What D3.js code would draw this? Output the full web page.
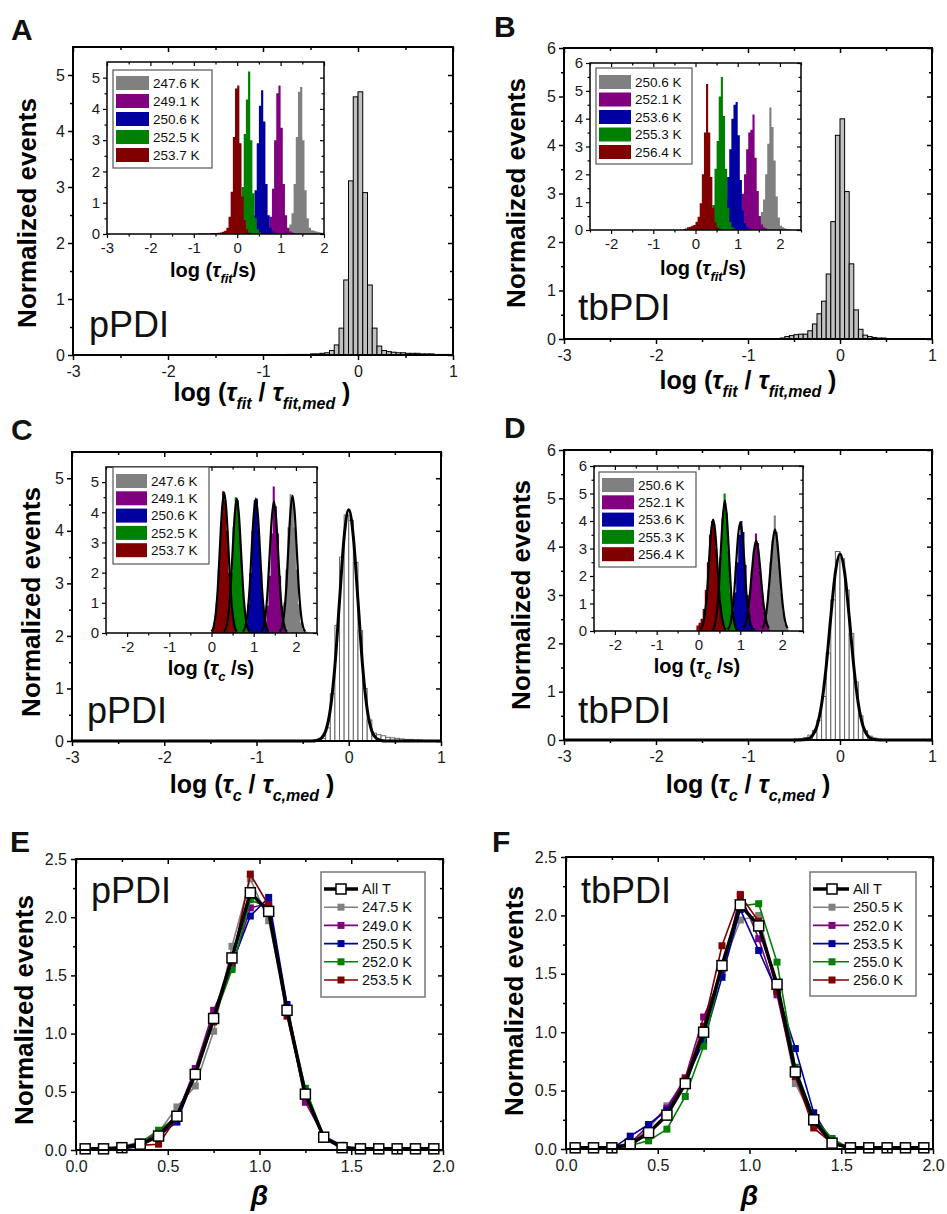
<!DOCTYPE html>
<html>
<head>
<meta charset="utf-8">
<script src="https://cdn.jsdelivr.net/npm/d3@7"></script>
<style>
  body { margin: 0; background: #fff; }
  text { font-family: "Liberation Sans", Arial, Helvetica, sans-serif; white-space: pre; }
</style>
</head>
<body>
<script>
// ------------------------------------------------------------------
// data
// ------------------------------------------------------------------
const binW = 0.05;
const colors = ["#808080", "#800080", "#0000a0", "#008000", "#800000"];

// ticks
const mainXTicks = [-3, -2, -1, 0, 1];
const mainXMinor = [-2.5, -1.5, -0.5, 0.5];
const y55Ticks = [0, 1, 2, 3, 4, 5];
const y55Minor = [0.5, 1.5, 2.5, 3.5, 4.5];
const y6Ticks = [0, 1, 2, 3, 4, 5, 6];
const y6Minor = [0.5, 1.5, 2.5, 3.5, 4.5, 5.5];
const insetAXTicks = [-3, -2, -1, 0, 1, 2];
const insetAXMinor = [-2.5, -1.5, -0.5, 0.5, 1.5];
const insetXTicks = [-2, -1, 0, 1, 2];
const insetXMinor = [-2.5, -1.5, -0.5, 0.5, 1.5, 2.5];
const betaTicks = [0, 0.5, 1, 1.5, 2];
const betaMinor = [0.25, 0.75, 1.25, 1.75];
const evTicks = [0, 0.5, 1, 1.5, 2, 2.5];
const evMinor = [0.25, 0.75, 1.25, 1.75, 2.25];

// A: main histogram log(tau_fit/tau_fit,med), pPDI
const histAStart = -0.75;
const histA = [0.01,0.01,0.01,0.01,0.01,0.02,0.02,0.03,0.04,0.08,0.18,0.48,1.34,3.11,4.61,4.70,2.90,1.25,0.48,0.16,
               0.08,0.06,0.05,0.04,0.04,0.03,0.03,0.03,0.02,0.02,0.02,0.01,0.01,0.01,0.01];
// A inset: log(tau_fit/s)
const tempsA = ["247.6 K", "249.1 K", "250.6 K", "252.5 K", "253.7 K"];
const insetAStarts = [1.00, 0.55, 0.15, -0.15, -0.90];
const insetA247 = [0.03,0.05,0.08,0.15,0.30,0.66,1.60,3.10,4.55,4.70,3.00,1.40,0.50,0.20,0.12,0.10,0.08,0.06,0.05,0.04];
const insetA249 = [0.03,0.05,0.10,0.20,0.55,1.45,3.00,4.50,4.75,3.40,1.60,0.60,0.20,0.08,0.05];
const insetA250 = [0.03,0.05,0.10,0.25,0.60,1.40,2.90,4.10,4.60,3.60,1.60,0.60,0.20,0.08,0.04];
const insetA252 = [0.03,0.05,0.10,0.25,0.60,1.50,3.20,4.30,5.20,3.00,1.30,0.50,0.15,0.05];
const insetA253 = [0.02,0.02,0.02,0.02,0.02,0.02,0.03,0.03,0.03,0.04,0.05,0.07,0.10,0.20,0.55,1.35,3.10,4.65,4.75,2.90,1.20,0.45,0.15,0.05];

// B: main histogram, tbPDI
const histBStart = -0.65;
const histB = [0.02,0.05,0.07,0.09,0.10,0.10,0.17,0.31,0.52,0.78,1.34,2.42,4.20,4.54,3.04,1.55,0.60,0.20,0.08,0.05,
               0.03,0.02,0.02,0.01,0.01,0.01];
const tempsB = ["250.6 K", "252.1 K", "253.6 K", "255.3 K", "256.4 K"];
const insetBStarts = [1.35, 0.80, 0.45, 0.20, -0.30];
const insetB250 = [0.05,0.10,0.20,0.40,0.65,1.10,2.00,3.10,4.40,3.70,2.50,1.20,0.45,0.15,0.10,0.06,0.04,0.03,0.02];
const insetB252 = [0.05,0.10,0.20,0.30,0.50,0.80,1.30,2.00,2.90,3.50,3.60,4.15,2.60,1.40,0.50,0.20,0.10,0.05];
const insetB253 = [0.05,0.10,0.20,0.40,0.60,1.10,1.90,2.90,4.00,4.50,4.60,3.40,1.80,0.70,0.25,0.10,0.05];
const insetB255 = [0.05,0.10,0.20,0.50,0.90,2.20,3.20,4.80,5.50,4.10,2.20,0.80,0.30,0.10,0.05];
const insetB256 = [0.03,0.05,0.10,0.12,0.15,0.18,0.30,0.48,0.96,2.00,3.50,5.25,3.50,1.90,0.80,0.30,0.10,0.05];

// C: main histogram log(tau_c/tau_c,med) + fit, pPDI
const histCStart = -0.35;
const histC = [0.02,0.05,0.25,0.90,2.20,3.50,4.30,4.20,3.40,2.10,1.00,0.40,0.15,0.12,0.10,0.07,0.06,0.05,0.04,0.03,
               0.03,0.02,0.02,0.01,0.01];
const fitCStart = -0.4;
const fitC = [0.00,0.01,0.05,0.19,0.60,1.43,2.67,3.88,4.40,3.88,2.67,1.43,0.60,0.19,0.05,0.01,0.00];
const insetCStarts = [1.60, 1.20, 0.75, 0.30, 0.00];
const insetC247 = [0.10,0.30,1.00,2.10,3.50,4.60,4.50,3.50,2.10,0.95,0.35,0.12,0.06,0.04];
const insetC249 = [0.10,0.30,0.90,1.90,3.30,4.85,4.20,3.30,1.90,0.90,0.30,0.10];
const insetC250 = [0.10,0.30,0.95,2.00,3.40,4.40,4.45,3.40,2.00,0.90,0.30,0.10];
const insetC252 = [0.10,0.30,0.95,2.00,3.50,4.50,4.40,3.30,1.90,0.90,0.30,0.10];
const insetC253 = [0.10,0.35,1.00,2.10,3.60,4.70,4.40,3.40,2.00,0.90,0.35,0.10];
const insetCFitStarts = [1.62, 1.18, 0.75, 0.30, 0.00];
const fitC247 = [0.05,0.20,0.62,1.46,2.78,4.00,4.55,4.00,2.78,1.46,0.62,0.20,0.05];
const fitC249 = [0.05,0.19,0.59,1.40,2.65,3.82,4.35,3.82,2.65,1.40,0.59,0.19,0.05];
const fitC250 = [0.05,0.20,0.60,1.42,2.70,3.90,4.45,3.90,2.70,1.42,0.60,0.20,0.05];
const fitC252 = [0.05,0.20,0.60,1.42,2.70,3.90,4.45,3.90,2.70,1.42,0.60,0.20,0.05];
const fitC253 = [0.05,0.20,0.63,1.50,2.85,4.10,4.65,4.10,2.85,1.50,0.63,0.20,0.05];

// D: main histogram + fit, tbPDI
const histDStart = -0.5;
const histD = [0.02,0.03,0.05,0.10,0.20,0.41,0.90,1.80,2.90,3.90,3.75,3.10,2.20,1.20,0.50,0.19,0.08,0.04,0.02];
const fitDStart = -0.45;
const fitD = [0.00,0.005,0.02,0.09,0.29,0.74,1.52,2.55,3.47,3.85,3.47,2.55,1.52,0.74,0.29,0.09,0.02,0.005,0.00];
const insetDStarts = [1.50, 1.05, 0.70, 0.35, -0.05];
const insetD250 = [0.10,0.30,0.80,1.50,2.50,3.30,4.20,3.60,2.40,1.40,0.70,0.25,0.10];
const insetD252 = [0.10,0.30,0.70,1.30,2.20,2.90,3.55,3.20,2.20,1.40,0.70,0.30,0.10];
const insetD253 = [0.10,0.30,0.70,1.40,2.50,3.50,4.00,3.60,2.40,1.30,0.60,0.20,0.10];
const insetD255 = [0.15,0.50,1.30,2.70,4.10,5.00,4.30,2.90,1.40,0.50,0.15];
const insetD256 = [0.20,0.30,0.45,0.80,1.50,2.50,3.50,4.00,3.90,3.00,1.90,0.90,0.35,0.10];
const insetDFitStarts = [1.53, 1.08, 0.70, 0.33, 0.05];
const fitD250 = [0.10,0.30,0.75,1.50,2.45,3.30,3.70,3.30,2.45,1.50,0.75,0.30,0.10];
const fitD252 = [0.10,0.30,0.70,1.35,2.20,2.95,3.30,2.95,2.20,1.35,0.70,0.30,0.10];
const fitD253 = [0.05,0.20,0.60,1.30,2.45,3.50,3.95,3.50,2.45,1.30,0.60,0.20,0.05];
const fitD255 = [0.03,0.15,0.55,1.40,2.80,4.10,4.75,4.10,2.80,1.40,0.55,0.15,0.03];
const fitD256 = [0.05,0.20,0.60,1.30,2.50,3.60,4.05,3.60,2.50,1.30,0.60,0.20,0.05];

// E / F: beta distributions
const betaX = [0.05,0.15,0.25,0.35,0.45,0.55,0.65,0.75,0.85,0.95,1.05,1.15,1.25,1.35,1.45,1.55,1.65,1.75,1.85,1.95];
const tempsE = ["247.5 K", "249.0 K", "250.5 K", "252.0 K", "253.5 K"];
const betaEAll = [0.01,0.01,0.02,0.05,0.12,0.29,0.65,1.13,1.65,2.21,2.05,1.20,0.48,0.11,0.02,0.01,0.01,0.01,0.01,0.01];
const betaE247 = [0,0,0.03,0.07,0.15,0.37,0.55,1.02,1.75,2.33,1.97,1.22,0.48,0.12,0.02,0,0,0,0,0];
const betaE249 = [0,0,0.02,0.06,0.15,0.30,0.70,1.20,1.57,2.08,2.12,1.22,0.41,0.12,0.02,0,0,0,0,0];
const betaE250 = [0,0,0.01,0.03,0.12,0.24,0.65,1.13,1.60,2.01,2.17,1.25,0.47,0.12,0.04,0,0,0,0,0];
const betaE252 = [0,0,0.01,0.06,0.17,0.28,0.66,1.12,1.55,2.15,2.08,1.20,0.53,0.12,0.02,0,0,0,0,0];
const betaE253 = [0,0,0.03,0.04,0.05,0.28,0.65,1.10,1.62,2.37,2.10,1.15,0.46,0.11,0.02,0,0,0,0,0];
const tempsF = ["250.5 K", "252.0 K", "253.5 K", "255.0 K", "256.0 K"];
const betaFAll = [0.01,0.01,0.01,0.04,0.14,0.29,0.56,1.00,1.57,2.09,1.91,1.41,0.66,0.25,0.05,0.01,0.01,0.01,0.01,0.01];
const betaF250 = [0,0,0,0.05,0.17,0.37,0.58,1.05,1.55,1.96,2.00,1.38,0.56,0.25,0.05,0,0,0,0,0];
const betaF252 = [0,0,0,0.05,0.20,0.35,0.61,1.13,1.50,2.18,1.80,1.32,0.62,0.22,0.05,0,0,0,0,0];
const betaF253 = [0,0,0,0.11,0.21,0.33,0.58,0.92,1.47,2.05,1.70,1.35,0.86,0.31,0.06,0,0,0,0,0];
const betaF255 = [0,0,0,0.03,0.07,0.17,0.45,0.88,1.55,2.08,2.10,1.60,0.70,0.27,0.09,0,0,0,0,0];
const betaF256 = [0,0,0,0.03,0.13,0.30,0.60,1.05,1.74,2.17,1.95,1.35,0.62,0.18,0.05,0,0,0,0,0];

// ------------------------------------------------------------------
// helpers
// ------------------------------------------------------------------
const FONT = '"Liberation Sans", Arial, Helvetica, sans-serif';
const svg = d3.select("body").append("svg")
  .attr("width", 947).attr("height", 1214)
  .style("font-family", FONT);

const fmtPlain = d => String(d);
const fmt1 = d3.format(".1f");

function axisG(parent, axis, tx, ty, o) {
  const a = parent.append("g")
    .attr("transform", "translate(" + tx + "," + ty + ")")
    .call(axis);
  a.select(".domain").remove();
  a.selectAll(".tick line").attr("stroke", "#000").attr("stroke-width", o.tw);
  a.selectAll(".tick text")
    .attr("font-size", o.fs)
    .attr("font-family", FONT)
    .attr("fill", "#1a1a1a");
  return a;
}

function makeFrame(parent, box, xDom, yDom, o) {
  const xs = d3.scaleLinear().domain(xDom).range([box.x0, box.x1]);
  const ys = d3.scaleLinear().domain(yDom).range([box.y1, box.y0]);
  if (o.bg) {
    parent.append("rect")
      .attr("x", box.x0).attr("y", box.y0)
      .attr("width", box.x1 - box.x0).attr("height", box.y1 - box.y0)
      .attr("fill", "#fff");
  }
  return {xs, ys};
}

// ticks on all four sides (outside on left/bottom, inside on top/right)
function decorate(parent, box, xs, ys, o) {
  const tk = {tw: o.tw, fs: o.fs};
  axisG(parent, d3.axisBottom(xs).tickValues(o.xMinor).tickSize(o.tm).tickFormat(""), 0, box.y1, tk);
  axisG(parent, d3.axisBottom(xs).tickValues(o.xMajor).tickSize(o.tl).tickPadding(o.px).tickFormat(o.fx), 0, box.y1, tk);
  axisG(parent, d3.axisTop(xs).tickValues(o.xMinor).tickSize(-o.tm).tickFormat(""), 0, box.y0, tk);
  axisG(parent, d3.axisTop(xs).tickValues(o.xMajor).tickSize(-o.tl).tickFormat(""), 0, box.y0, tk);
  axisG(parent, d3.axisLeft(ys).tickValues(o.yMinor).tickSize(o.tm).tickFormat(""), box.x0, 0, tk);
  axisG(parent, d3.axisLeft(ys).tickValues(o.yMajor).tickSize(o.tl).tickPadding(o.py).tickFormat(o.fy), box.x0, 0, tk);
  axisG(parent, d3.axisRight(ys).tickValues(o.yMinor).tickSize(-o.tm).tickFormat(""), box.x1, 0, tk);
  axisG(parent, d3.axisRight(ys).tickValues(o.yMajor).tickSize(-o.tl).tickFormat(""), box.x1, 0, tk);
  parent.append("rect")
    .attr("x", box.x0).attr("y", box.y0)
    .attr("width", box.x1 - box.x0).attr("height", box.y1 - box.y0)
    .attr("fill", "none").attr("stroke", "#000").attr("stroke-width", o.fw);
}

// histogram as separate outlined bars
function barHist(g, xs, ys, start, vals, fill, stroke, sw) {
  g.append("g").selectAll("rect")
    .data(vals)
    .join("rect")
    .attr("x", (d, i) => xs(start + i * binW))
    .attr("width", (d, i) => xs(start + (i + 1) * binW) - xs(start + i * binW))
    .attr("y", d => ys(d))
    .attr("height", d => ys(0) - ys(d))
    .attr("fill", fill)
    .attr("stroke", stroke)
    .attr("stroke-width", sw);
}

// histogram as one filled step area (no seams)
function stepHist(g, xs, ys, start, vals, fill) {
  const pts = vals.map((v, i) => [start + i * binW, v]);
  pts.push([start + vals.length * binW, 0]);
  const area = d3.area()
    .curve(d3.curveStepAfter)
    .x(d => xs(d[0]))
    .y0(ys(0))
    .y1(d => ys(d[1]));
  g.append("path").datum(pts).attr("d", area).attr("fill", fill);
}

function fitLine(g, xs, ys, start, vals, sw, ext) {
  let pts = vals.map((v, i) => [start + i * binW, v]);
  if (ext) pts = [[ext[0], 0]].concat(pts, [[ext[1], 0]]);
  const line = d3.line()
    .curve(d3.curveMonotoneX)
    .x(d => xs(d[0]))
    .y(d => ys(d[1]));
  g.append("path").datum(pts).attr("d", line)
    .attr("fill", "none").attr("stroke", "#000")
    .attr("stroke-width", sw).attr("stroke-linejoin", "round");
}

// text with italic symbols and subscripts
function richText(parent, x, y, parts, fs, sub) {
  const t = parent.append("text")
    .attr("x", x).attr("y", y)
    .attr("text-anchor", "middle")
    .attr("font-weight", "bold")
    .attr("font-size", fs)
    .attr("fill", "#000");
  let down = false;
  parts.forEach(p => {
    const ts = t.append("tspan").text(p[0]);
    if (p[1] === "s") {
      ts.attr("font-size", sub).attr("font-style", "italic");
      if (!down) { ts.attr("dy", fs * 0.32); down = true; }
    } else {
      if (down) { ts.attr("dy", -fs * 0.32); down = false; }
      if (p[1] === "i") ts.attr("font-style", "italic");
    }
  });
  return t;
}

function yTitle(parent, x, y, fs) {
  parent.append("text")
    .attr("transform", "translate(" + x + "," + y + ") rotate(-90)")
    .attr("text-anchor", "middle")
    .attr("font-weight", "bold")
    .attr("font-size", fs)
    .text("Normalized events");
}

function plainText(parent, x, y, s, fs, weight) {
  parent.append("text")
    .attr("x", x).attr("y", y)
    .attr("font-size", fs)
    .attr("font-weight", weight || "normal")
    .attr("fill", "#111")
    .text(s);
}

function swatchLegend(parent, box, names, rowY, rowH, swX, swW, fs) {
  parent.append("rect")
    .attr("x", box.x0).attr("y", box.y0)
    .attr("width", box.x1 - box.x0).attr("height", box.y1 - box.y0)
    .attr("fill", "#fff").attr("stroke", "#555").attr("stroke-width", 1.2);
  names.forEach((n, i) => {
    const cy = rowY + i * rowH;
    parent.append("rect")
      .attr("x", swX).attr("y", cy - 7)
      .attr("width", swW).attr("height", 14)
      .attr("fill", colors[i]);
    parent.append("text")
      .attr("x", swX + swW + 4).attr("y", cy)
      .attr("dy", "0.36em")
      .attr("font-size", fs)
      .attr("fill", "#111")
      .text(n);
  });
}

// ------------------------------------------------------------------
// panels
// ------------------------------------------------------------------
const mainOpt = {tl: 5, tm: 3, tw: 1.5, fw: 2, fs: 16, px: 6, py: 3, fx: fmtPlain, fy: fmtPlain,
                 xMajor: mainXTicks, xMinor: mainXMinor};
const insetOpt = {tl: 4, tm: 2.5, tw: 1.2, fw: 1.5, fs: 15, px: 4, py: 3, fx: fmtPlain, fy: fmtPlain};

const tauFit = [["log (", "n"], ["τ", "i"], ["fit", "s"], [" / ", "n"], ["τ", "i"], ["fit,med", "s"], [" )", "n"]];
const tauFitS = [["log (", "n"], ["τ", "i"], ["fit", "s"], ["/s)", "n"]];
const tauC = [["log (", "n"], ["τ", "i"], ["c", "s"], [" / ", "n"], ["τ", "i"], ["c,med", "s"], [" )", "n"]];
const tauCS = [["log (", "n"], ["τ", "i"], ["c", "s"], [" /s)", "n"]];

// ---------------- Panel A ----------------
{
  const g = svg.append("g");
  const box = {x0: 73, x1: 453, y0: 47, y1: 355};
  const {xs, ys} = makeFrame(g, box, [-3, 1], [0, 5.5], {});
  barHist(g, xs, ys, histAStart, histA, "#c0c0c0", "#000", 1);
  decorate(g, box, xs, ys, Object.assign({}, mainOpt, {yMajor: y55Ticks, yMinor: y55Minor}));

  const ib = {x0: 107, x1: 324, y0: 62, y1: 234};
  const f = makeFrame(g, ib, [-3, 2], [0, 5.5], {bg: true});
  const ser = [insetA247, insetA249, insetA250, insetA252, insetA253];
  ser.forEach((s, i) => stepHist(g, f.xs, f.ys, insetAStarts[i], s, colors[i]));
  decorate(g, ib, f.xs, f.ys, Object.assign({}, insetOpt,
    {xMajor: insetAXTicks, xMinor: insetAXMinor, yMajor: y55Ticks, yMinor: y55Minor}));
  swatchLegend(g, {x0: 113, x1: 212, y0: 70, y1: 168}, tempsA, 83, 18, 116, 33, 13.5);
  richText(g, 213, 277, tauFitS, 20, 13);

  richText(g, 262, 401, tauFit, 25, 16);
  yTitle(g, 36, 213, 26);
  plainText(g, 89, 337, "pPDI", 36);
  plainText(g, 11, 40, "A", 30, "bold");
}

// ---------------- Panel B ----------------
{
  const g = svg.append("g");
  const box = {x0: 564, x1: 932, y0: 48, y1: 339};
  const {xs, ys} = makeFrame(g, box, [-3, 1], [0, 6], {});
  barHist(g, xs, ys, histBStart, histB, "#c0c0c0", "#000", 1);
  decorate(g, box, xs, ys, Object.assign({}, mainOpt, {yMajor: y6Ticks, yMinor: y6Minor}));

  const ib = {x0: 590, x1: 801, y0: 63, y1: 230};
  const f = makeFrame(g, ib, [-2.5, 2.5], [0, 6], {bg: true});
  const ser = [insetB250, insetB252, insetB253, insetB255, insetB256];
  ser.forEach((s, i) => stepHist(g, f.xs, f.ys, insetBStarts[i], s, colors[i]));
  decorate(g, ib, f.xs, f.ys, Object.assign({}, insetOpt,
    {xMajor: insetXTicks, xMinor: insetXMinor, yMajor: y6Ticks, yMinor: y6Minor}));
  swatchLegend(g, {x0: 596, x1: 692, y0: 68, y1: 164}, tempsB, 82, 17.5, 599, 32, 13.5);
  richText(g, 703, 275, tauFitS, 20, 13);

  richText(g, 748, 389, tauFit, 25, 16);
  yTitle(g, 525, 193, 26);
  plainText(g, 578, 320, "tbPDI", 37);
  plainText(g, 494, 37, "B", 30, "bold");
}

// ---------------- Panel C ----------------
{
  const g = svg.append("g");
  const box = {x0: 72, x1: 441, y0: 452, y1: 741};
  const {xs, ys} = makeFrame(g, box, [-3, 1], [0, 5.5], {});
  barHist(g, xs, ys, histCStart, histC, "#fff", "#666", 1);
  fitLine(g, xs, ys, fitCStart, fitC, 3, [-3, 1]);
  decorate(g, box, xs, ys, Object.assign({}, mainOpt, {yMajor: y55Ticks, yMinor: y55Minor}));

  const ib = {x0: 106, x1: 317, y0: 467, y1: 633};
  const f = makeFrame(g, ib, [-2.5, 2.5], [0, 5.5], {bg: true});
  const ser = [insetC247, insetC249, insetC250, insetC252, insetC253];
  const fits = [fitC247, fitC249, fitC250, fitC252, fitC253];
  ser.forEach((s, i) => stepHist(g, f.xs, f.ys, insetCStarts[i], s, colors[i]));
  fits.forEach((s, i) => fitLine(g, f.xs, f.ys, insetCFitStarts[i], s, 2.2, null));
  decorate(g, ib, f.xs, f.ys, Object.assign({}, insetOpt,
    {xMajor: insetXTicks, xMinor: insetXMinor, yMajor: y55Ticks, yMinor: y55Minor}));
  swatchLegend(g, {x0: 113, x1: 209, y0: 467, y1: 564}, tempsA, 481, 17.3, 116, 31, 13.5);
  richText(g, 211, 675, tauCS, 20, 13);

  richText(g, 252, 793, tauC, 25, 16);
  yTitle(g, 40, 602, 26);
  plainText(g, 87, 723, "pPDI", 36);
  plainText(g, 11, 440, "C", 30, "bold");
}

// ---------------- Panel D ----------------
{
  const g = svg.append("g");
  const box = {x0: 564, x1: 932, y0: 450, y1: 740};
  const {xs, ys} = makeFrame(g, box, [-3, 1], [0, 6], {});
  barHist(g, xs, ys, histDStart, histD, "#fff", "#666", 1);
  fitLine(g, xs, ys, fitDStart, fitD, 3, [-3, 1]);
  decorate(g, box, xs, ys, Object.assign({}, mainOpt, {yMajor: y6Ticks, yMinor: y6Minor}));

  const ib = {x0: 594, x1: 803, y0: 466, y1: 631};
  const f = makeFrame(g, ib, [-2.5, 2.5], [0, 6], {bg: true});
  const ser = [insetD250, insetD252, insetD253, insetD255, insetD256];
  const fits = [fitD250, fitD252, fitD253, fitD255, fitD256];
  ser.forEach((s, i) => stepHist(g, f.xs, f.ys, insetDStarts[i], s, colors[i]));
  fits.forEach((s, i) => fitLine(g, f.xs, f.ys, insetDFitStarts[i], s, 2.2, null));
  decorate(g, ib, f.xs, f.ys, Object.assign({}, insetOpt,
    {xMajor: insetXTicks, xMinor: insetXMinor, yMajor: y6Ticks, yMinor: y6Minor}));
  swatchLegend(g, {x0: 599, x1: 696, y0: 472, y1: 567}, tempsB, 485, 17.3, 602, 32, 13.5);
  richText(g, 697, 673, tauCS, 20, 13);

  richText(g, 748, 793, tauC, 25, 16);
  yTitle(g, 530, 595, 26);
  plainText(g, 578, 723, "tbPDI", 37);
  plainText(g, 504, 438, "D", 30, "bold");
}

// ---------------- Panels E / F ----------------
function betaPanel(box, allVals, series, names, legBox, legLine, label, labelX, letter, letterX, yTitleX, yTitleY) {
  const g = svg.append("g");
  const xs = d3.scaleLinear().domain([0, 2]).range([box.x0, box.x1]);
  const ys = d3.scaleLinear().domain([0, 2.5]).range([box.y1, box.y0]);
  const line = d3.line().x((d, i) => xs(betaX[i])).y(d => ys(d));

  series.forEach((s, k) => {
    g.append("path").datum(s).attr("d", line)
      .attr("fill", "none").attr("stroke", colors[k]).attr("stroke-width", 1.6);
    g.append("g").selectAll("rect").data(s).join("rect")
      .attr("x", (d, i) => xs(betaX[i]) - 3.5).attr("y", d => ys(d) - 3.5)
      .attr("width", 7).attr("height", 7)
      .attr("fill", colors[k]);
  });
  g.append("path").datum(allVals).attr("d", line)
    .attr("fill", "none").attr("stroke", "#000").attr("stroke-width", 3.5)
    .attr("stroke-linejoin", "round");
  g.append("g").selectAll("rect").data(allVals).join("rect")
    .attr("x", (d, i) => xs(betaX[i]) - 5).attr("y", d => ys(d) - 5)
    .attr("width", 10).attr("height", 10)
    .attr("fill", "#fff").attr("stroke", "#000").attr("stroke-width", 1.5);

  decorate(g, box, xs, ys, {tl: 5, tm: 3, tw: 1.5, fw: 2, fs: 16, px: 6, py: 4,
    fx: fmt1, fy: fmt1, xMajor: betaTicks, xMinor: betaMinor, yMajor: evTicks, yMinor: evMinor});

  // legend
  g.append("rect")
    .attr("x", legBox.x0).attr("y", legBox.y0)
    .attr("width", legBox.x1 - legBox.x0).attr("height", legBox.y1 - legBox.y0)
    .attr("fill", "#fff").attr("stroke", "#777").attr("stroke-width", 1.5);
  const rows = ["All T"].concat(names);
  rows.forEach((n, i) => {
    const cy = legBox.y0 + 17 + i * 18.2;
    const isAll = i === 0;
    const c = isAll ? "#000" : colors[i - 1];
    g.append("line")
      .attr("x1", legLine[0]).attr("x2", legLine[1]).attr("y1", cy).attr("y2", cy)
      .attr("stroke", c).attr("stroke-width", isAll ? 3.5 : 1.6);
    const m = isAll ? 10 : 7;
    g.append("rect")
      .attr("x", legLine[2] - m / 2).attr("y", cy - m / 2)
      .attr("width", m).attr("height", m)
      .attr("fill", isAll ? "#fff" : c)
      .attr("stroke", isAll ? "#000" : "none").attr("stroke-width", 1.5);
    g.append("text")
      .attr("x", legLine[1] + 4).attr("y", cy).attr("dy", "0.36em")
      .attr("font-size", 14.5).attr("fill", "#111")
      .text(n);
  });

  g.append("text")
    .attr("x", (box.x0 + box.x1) / 2).attr("y", 1205)
    .attr("text-anchor", "middle")
    .attr("font-size", 28).attr("font-weight", "bold").attr("font-style", "italic")
    .text("β");
  yTitle(g, yTitleX, yTitleY, 26);
  plainText(g, labelX, 903, label, 36);
  plainText(g, letterX, 852, letter, 30, "bold");
}

betaPanel({x0: 76, x1: 443, y0: 859, y1: 1150}, betaEAll,
  [betaE247, betaE249, betaE250, betaE252, betaE253], tempsE,
  {x0: 321, x1: 425, y0: 872, y1: 997}, [324, 358, 341],
  "pPDI", 91, "E", 10, 33, 1010);

betaPanel({x0: 566, x1: 933, y0: 857, y1: 1149}, betaFAll,
  [betaF250, betaF252, betaF253, betaF255, betaF256], tempsF,
  {x0: 810, x1: 916, y0: 872, y1: 996}, [813, 849, 832],
  "tbPDI", 581, "F", 492, 523, 1001);
</script>
</body>
</html>
